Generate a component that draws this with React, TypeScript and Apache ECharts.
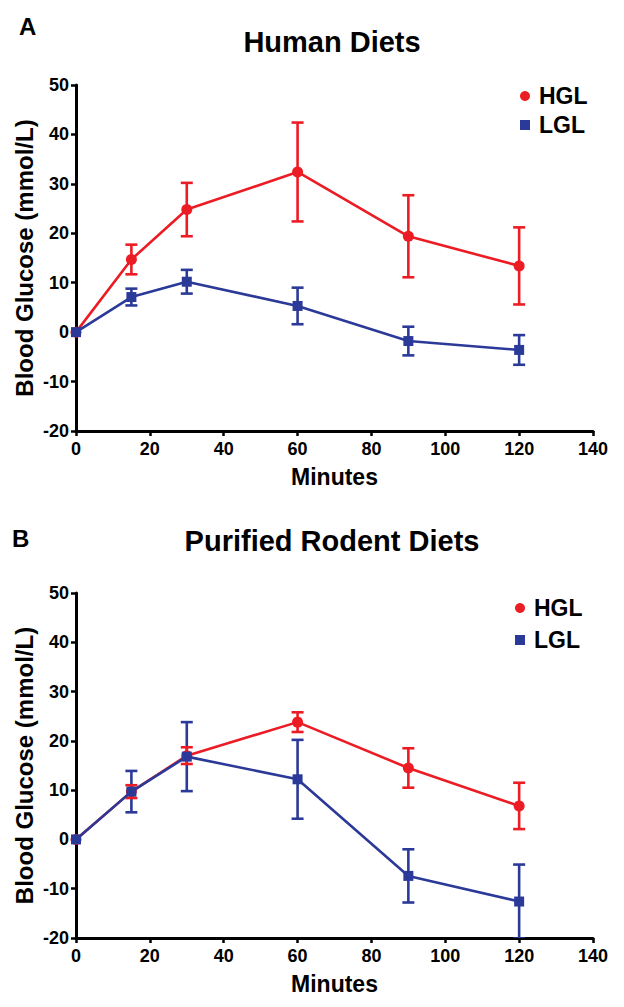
import React, { useEffect, useRef } from "react";
import * as echarts from "echarts";

const minutes = [0, 15, 30, 60, 90, 120];
const humanHGL = [0, 14.7, 24.8, 32.4, 19.4, 13.4];
const humanHGLErr = [0, 3.0, 5.4, 10.0, 8.3, 7.8];
const humanLGL = [0, 7.1, 10.2, 5.3, -1.8, -3.6];
const humanLGLErr = [0, 1.7, 2.4, 3.7, 2.9, 3.0];
const rodentHGL = [0, 9.7, 17.0, 23.8, 14.5, 6.8];
const rodentHGLErr = [0, 1.3, 1.7, 2.0, 4.0, 4.7];
const rodentLGL = [0, 9.7, 16.8, 12.2, -7.4, -12.6];
const rodentLGLErr = [0, 4.2, 7.0, 8.0, 5.4, 7.5];

const xTicks = { min: 0, max: 140, interval: 20 };
const yTicks = { min: -20, max: 50, interval: 10 };
const panelTitles = ["Human Diets", "Purified Rodent Diets"];
const panelLetters = ["A", "B"];
const seriesNames = ["HGL", "LGL"];

const RED = "#ec1c24";
const BLUE = "#2b3a98";
const FONT = "'Liberation Sans', Arial, Helvetica, sans-serif";

function pts(ys: number[]) {
  return minutes.map((m, i) => [m, ys[i]]);
}
function errs(ys: number[], es: number[]) {
  return minutes
    .map((m, i) => [m, ys[i] - es[i], ys[i] + es[i]])
    .filter((_, i) => es[i] > 0);
}

function errSeries(name: string, idx: number, data: number[][], color: string, z: number) {
  return {
    type: "custom",
    name,
    xAxisIndex: idx,
    yAxisIndex: idx,
    z,
    clip: true,
    encode: { x: 0, y: [1, 2] },
    data,
    renderItem: (params: any, api: any) => {
      const x = api.value(0);
      const lo = api.value(1);
      const hi = api.value(2);
      const t = api.coord([x, hi]);
      const b = api.coord([x, lo]);
      const w = 6;
      const style = { stroke: color, lineWidth: 2.6 };
      return {
        type: "group",
        children: [
          { type: "line", shape: { x1: t[0], y1: t[1], x2: b[0], y2: b[1] }, style },
          { type: "line", shape: { x1: t[0] - w, y1: t[1], x2: t[0] + w, y2: t[1] }, style },
          { type: "line", shape: { x1: b[0] - w, y1: b[1], x2: b[0] + w, y2: b[1] }, style },
        ],
      };
    },
  };
}

function lineSeries(name: string, idx: number, data: number[][], color: string, symbol: string, z: number) {
  return {
    type: "line",
    name,
    xAxisIndex: idx,
    yAxisIndex: idx,
    z,
    data,
    symbol,
    symbolSize: symbol === "circle" ? 11 : 10,
    showSymbol: true,
    lineStyle: { color, width: 2.6 },
    itemStyle: { color },
  };
}

function xAxis(idx: number) {
  return {
    type: "value",
    gridIndex: idx,
    ...xTicks,
    name: "Minutes",
    nameLocation: "middle",
    nameGap: 34,
    nameMoveOverlap: false,
    nameTextStyle: { fontFamily: FONT, fontWeight: "bold", fontSize: 23, color: "#000" },
    axisLine: { onZero: false, lineStyle: { color: "#000", width: 3 } },
    axisTick: { show: true, length: 5, lineStyle: { color: "#000", width: 2.5 } },
    axisLabel: { margin: 9, fontFamily: FONT, fontWeight: "bold", fontSize: 18, color: "#000" },
    splitLine: { show: false },
  };
}

function yAxis(idx: number) {
  return {
    type: "value",
    gridIndex: idx,
    ...yTicks,
    name: "Blood Glucose (mmol/L)",
    nameLocation: "middle",
    nameGap: 40,
    nameMoveOverlap: false,
    nameTextStyle: { fontFamily: FONT, fontWeight: "bold", fontSize: 24, color: "#000" },
    axisLine: { onZero: false, lineStyle: { color: "#000", width: 3 } },
    axisTick: { show: true, length: 5, lineStyle: { color: "#000", width: 2.5 } },
    axisLabel: { margin: 7, fontFamily: FONT, fontWeight: "bold", fontSize: 18, color: "#000" },
    splitLine: { show: false },
  };
}

function legend(left: number, top: number, gap: number) {
  return {
    orient: "vertical",
    left,
    top,
    padding: 0,
    itemWidth: 10,
    itemHeight: 10,
    itemGap: gap,
    selectedMode: false,
    data: [
      { name: seriesNames[0], icon: "circle" },
      { name: seriesNames[1], icon: "rect" },
    ],
    textStyle: {
      fontFamily: FONT,
      fontWeight: "bold",
      fontSize: 23,
      color: "#000",
      lineHeight: 24,
      padding: [0, 0, 0, 4],
    },
  };
}

function txt(text: string, x: number, y: number, size: number, align: string) {
  return {
    type: "text",
    x,
    y,
    style: {
      text,
      fill: "#000",
      font: `bold ${size}px ${FONT}`,
      align,
      textAlign: align,
      verticalAlign: "middle",
      textVerticalAlign: "middle",
    },
  };
}

export default function App() {
  const ref = useRef<HTMLDivElement>(null);
  useEffect(() => {
    if (!ref.current) return;
    const chart = echarts.init(ref.current, undefined, { renderer: "svg" });
    chart.setOption({
      animation: false,
      backgroundColor: "#fff",
      grid: [
        { left: 76, top: 85, width: 517, height: 346 },
        { left: 76, top: 593, width: 517, height: 345 },
      ],
      xAxis: [xAxis(0), xAxis(1)],
      yAxis: [yAxis(0), yAxis(1)],
      legend: [legend(520, 84, 5), legend(515, 596, 8)],
      graphic: [
        txt(panelLetters[0], 19, 26, 24, "left"),
        txt(panelTitles[0], 332, 42, 29, "center"),
        txt(panelLetters[1], 12, 538, 24, "left"),
        txt(panelTitles[1], 332, 541, 29, "center"),
      ],
      series: [
        errSeries("HGL err A", 0, errs(humanHGL, humanHGLErr), RED, 2),
        errSeries("LGL err A", 0, errs(humanLGL, humanLGLErr), BLUE, 1),
        lineSeries(seriesNames[0], 0, pts(humanHGL), RED, "circle", 3),
        lineSeries(seriesNames[1], 0, pts(humanLGL), BLUE, "rect", 4),
        errSeries("HGL err B", 1, errs(rodentHGL, rodentHGLErr), RED, 2),
        errSeries("LGL err B", 1, errs(rodentLGL, rodentLGLErr), BLUE, 1),
        lineSeries(seriesNames[0], 1, pts(rodentHGL), RED, "circle", 3),
        lineSeries(seriesNames[1], 1, pts(rodentLGL), BLUE, "rect", 4),
      ],
    });
    return () => chart.dispose();
  }, []);
  return (
    <div
      ref={ref}
      style={{ position: "absolute", left: 0, top: 0, width: 624, height: 1007 }}
    />
  );
}
